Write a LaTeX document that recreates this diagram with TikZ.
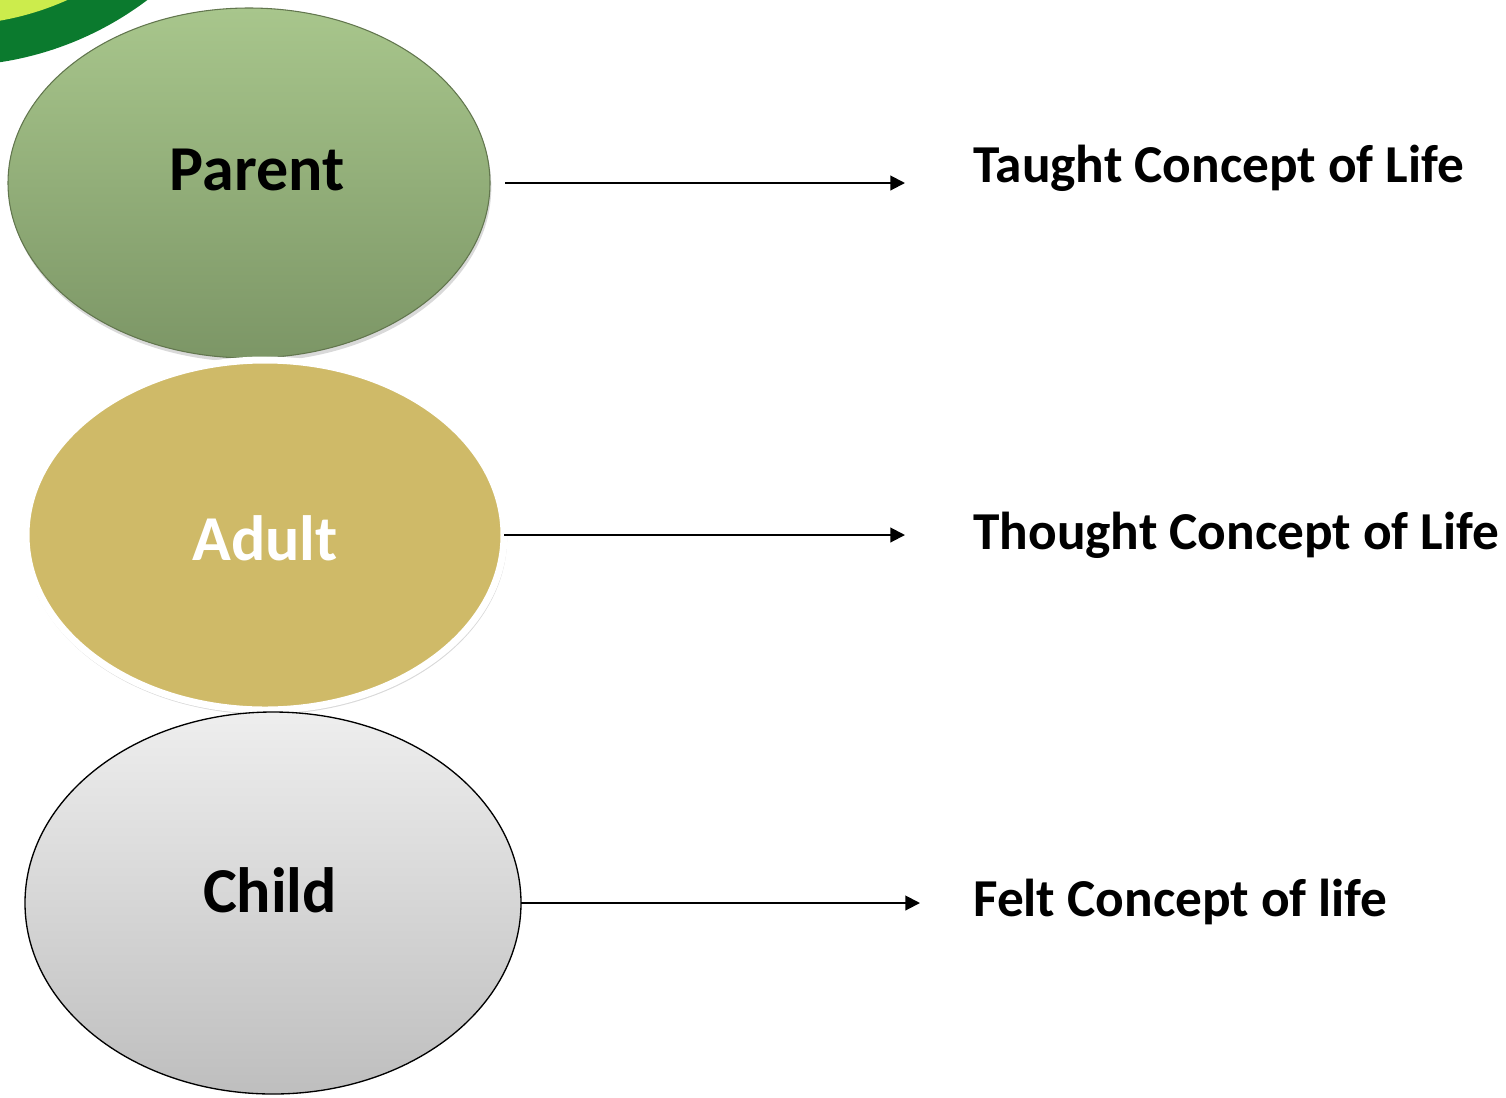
\documentclass[tikz,border=0pt]{standalone}
\usepackage{fontspec}
\setmainfont{Carlito}
\usepackage{xcolor}
\usepackage{tikz}
\usetikzlibrary{shapes.geometric,arrows.meta,shadows}

\definecolor{ringdark}{RGB}{11,122,46}
\definecolor{ringlight}{RGB}{204,236,76}
\definecolor{parenttop}{RGB}{168,198,140}
\definecolor{parentbot}{RGB}{124,150,102}
\definecolor{parentline}{RGB}{98,118,78}
\definecolor{adultfill}{RGB}{207,186,104}
\definecolor{childtop}{RGB}{238,238,238}
\definecolor{childbot}{RGB}{190,190,190}

\tikzset{
  egg/.style={ellipse,inner sep=0pt,outer sep=0pt},
  bigword/.style={inner sep=0pt,font=\fontsize{48}{54}\selectfont\bfseries},
  sideword/.style={inner sep=0pt,anchor=base west,font=\fontsize{40}{46}\selectfont\bfseries},
  link/.style={line width=1.5pt,-{Triangle[length=11pt,width=11pt]}}
}

\begin{document}
\begin{tikzpicture}[x=0.75pt,y=0.75pt,yscale=-1,xscale=1]
\useasboundingbox (0,0) rectangle (1506,1097);

%Shape: Ring in the corner
\begin{scope}
\clip (0,0) rectangle (1506,1097);
\fill [ringdark] (-50,-262) circle [radius=328];
\fill [ringlight] (-50,-262) circle [radius=287];
\end{scope}

%Shape: Ellipse [Parent]
\node [egg,minimum width=482*0.75pt,minimum height=350*0.75pt,top color=parenttop,bottom color=parentbot,draw=parentline,line width=0.8pt,drop shadow={opacity=0.3,shadow xshift=1pt,shadow yshift=-3pt}] (parent) at (249,183) {};
%Shape: Ellipse [Adult]
\node [egg,minimum width=478*0.75pt,minimum height=350*0.75pt,fill=adultfill,draw=white,line width=5.25pt,drop shadow={opacity=0.3,shadow scale=1.01,shadow xshift=0.5pt,shadow yshift=-2pt}] (adult) at (265,535) {};
%Shape: Ellipse [Child]
\node [egg,minimum width=496*0.75pt,minimum height=382*0.75pt,top color=childtop,bottom color=childbot,draw=black,line width=1pt] (child) at (273,903) {};

% Text Node
\node [bigword] (parentlbl) at (257,170) {Parent};
% Text Node
\node [bigword,text=white] (adultlbl) at (265,538) {Adult};
% Text Node
\node [bigword] (childlbl) at (270,890) {Child};

% Text Node
\node [sideword] (taught) at (973,182) {Taught Concept of Life};
% Text Node
\node [sideword] (thought) at (973,549) {Thought Concept of Life};
% Text Node
\node [sideword] (felt) at (973,916) {Felt Concept of life};

%Straight Lines
\draw [link,shorten <=11.25pt,shorten >=51pt] (parent.east) -- (parent.east -| taught.west);
%Straight Lines
\draw [link,shorten >=51pt] (adult.east) -- (adult.east -| thought.west);
%Straight Lines
\draw [link,shorten >=39.75pt] (child.east) -- (child.east -| felt.west);

\end{tikzpicture}
\end{document}
